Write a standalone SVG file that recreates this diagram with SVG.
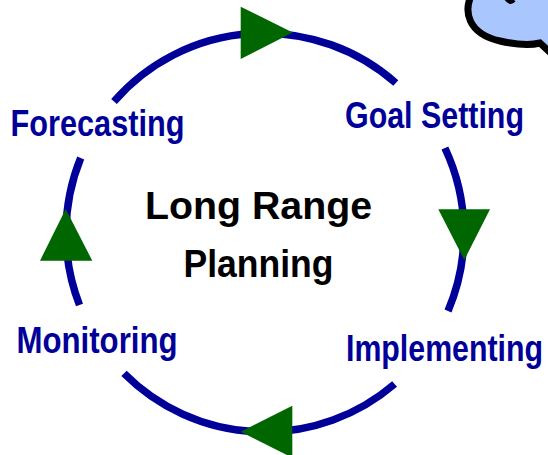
<svg xmlns="http://www.w3.org/2000/svg" width="548" height="455" viewBox="0 0 548 455">
<style>
.arc{fill:none;stroke:#000099;stroke-width:7.5}
.arr{fill:#006600}
.lbl{font-family:"Liberation Sans",Arial,sans-serif;font-weight:bold;font-size:30px;fill:#000099}
.ctr{font-family:"Liberation Sans",Arial,sans-serif;font-weight:bold;font-size:38px;fill:#000000}
</style>
<rect width="548" height="455" fill="#ffffff"/>
<g id="cloud">
<path d="M474,-10 C461,12 469,34 500,41 C518,45 532,45 540,43 L556,58 L560,-10 Z" fill="#AAC6FF" stroke="#000000" stroke-width="7"/>
<path d="M505,-3 Q510,5 514,0" fill="none" stroke="#000000" stroke-width="4"/>
</g>
<g id="connectors">
<path class="arc" d="M114,101.5 A199,199 0 0 1 395.8,83"/>
<path class="arc" d="M444.9,148 A199,199 0 0 1 448,311"/>
<path class="arc" d="M394.6,384 A199,199 0 0 1 124,373.4"/>
<path class="arc" d="M79.5,305 A199,199 0 0 1 80.7,158"/>
<polygon class="arr" points="240.7,6.7 240.7,59 292.7,32.5"/>
<polygon class="arr" points="438.3,209.3 490,209.3 464.3,260"/>
<polygon class="arr" points="40,260.7 92.3,260.7 65.7,209"/>
<polygon class="arr" points="292.3,405.7 292.3,457.7 240.7,431.7"/>
</g>
<g id="center">
<text class="ctr" x="145" y="219.3" textLength="227" lengthAdjust="spacingAndGlyphs">Long Range</text>
<text class="ctr" x="183.5" y="276.7" textLength="150" lengthAdjust="spacingAndGlyphs">Planning</text>
</g>
<g id="forecasting" transform="translate(10.5,136) scale(1,1.2)">
<text class="lbl" x="0" y="0" textLength="174" lengthAdjust="spacingAndGlyphs">Forecasting</text>
</g>
<g id="goal-setting" transform="translate(345,127.7) scale(1,1.2)">
<text class="lbl" x="0" y="0" textLength="179" lengthAdjust="spacingAndGlyphs">Goal Setting</text>
</g>
<g id="implementing" transform="translate(346,360.5) scale(1,1.2)">
<text class="lbl" x="0" y="0" textLength="197" lengthAdjust="spacingAndGlyphs">Implementing</text>
</g>
<g id="monitoring" transform="translate(16.5,352.5) scale(1,1.2)">
<text class="lbl" x="0" y="0" textLength="161" lengthAdjust="spacingAndGlyphs">Monitoring</text>
</g>
</svg>
